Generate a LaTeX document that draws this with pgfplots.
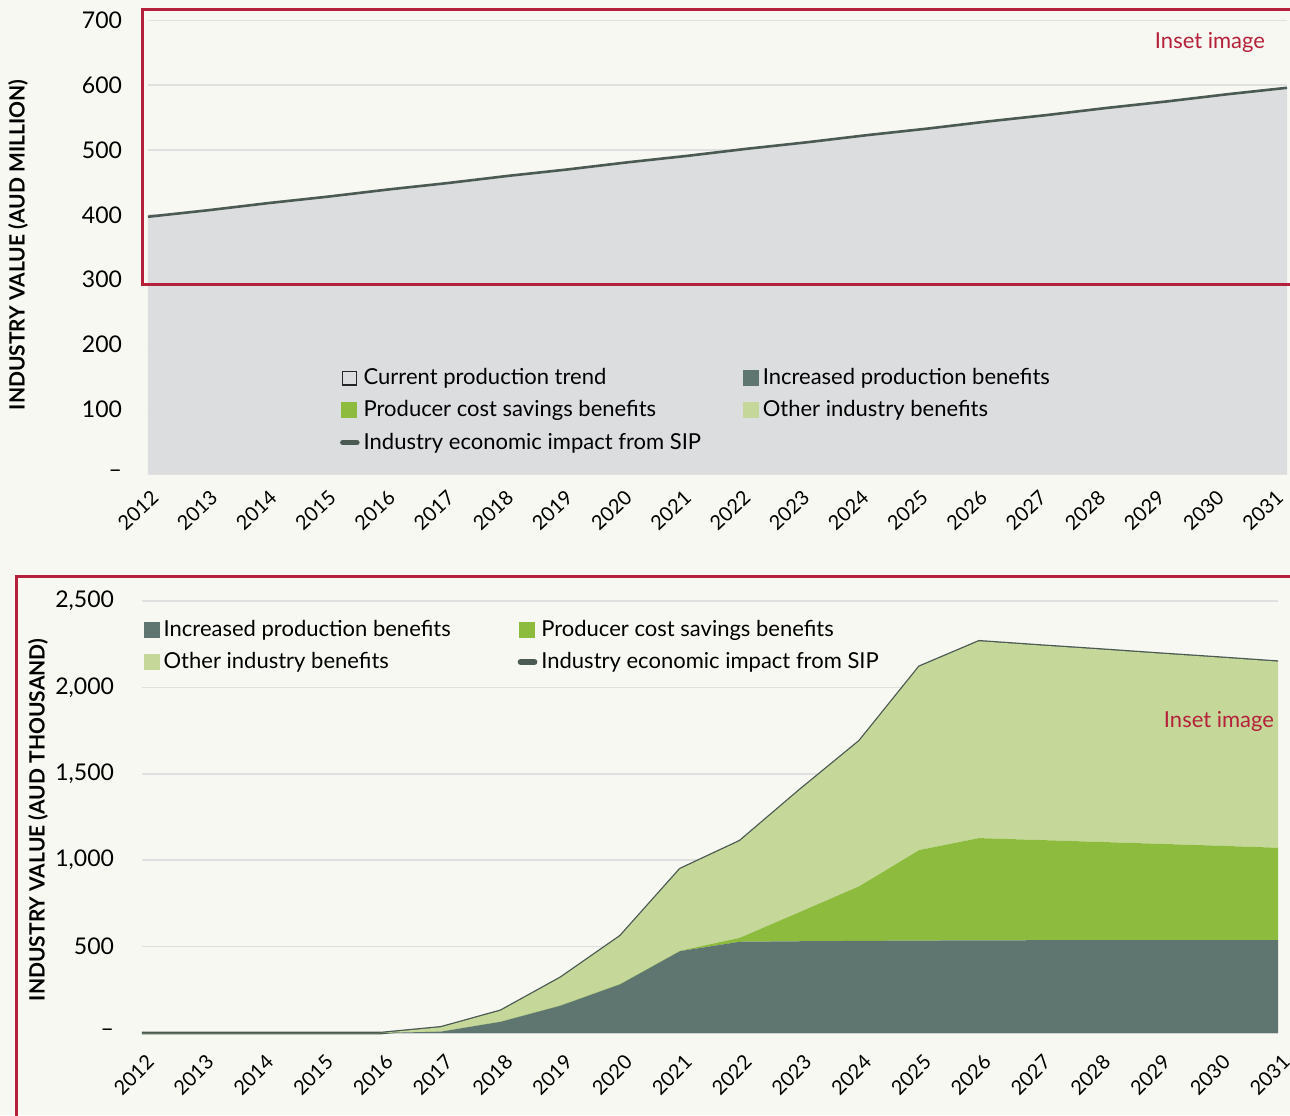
\documentclass[border=0pt]{standalone}
\usepackage{fontspec}
\setmainfont{Lato}
\usepackage{pgfplots}
\pgfplotsset{compat=1.18}
\usepackage{pgfplotstable}
\definecolor{bg}{HTML}{F7F8F1}
\definecolor{greyarea}{HTML}{DCDDDF}
\definecolor{linec}{HTML}{4B5A52}
\definecolor{darkc}{HTML}{5E7570}
\definecolor{midc}{HTML}{8DBB3D}
\definecolor{lightc}{HTML}{C5D89A}
\definecolor{redc}{HTML}{B5213A}
\definecolor{gridc}{HTML}{E0E0E0}

\pgfplotstableread{
year trend
2012 397
2013 407
2014 418
2015 428
2016 439
2017 449
2018 460
2019 470
2020 481
2021 491
2022 502
2023 512
2024 523
2025 533
2026 544
2027 554
2028 565
2029 575
2030 586
2031 596
}\trendtable

\pgfplotstableread{
year inc cost other
2012 0 0 0
2013 0 0 0
2014 0 0 0
2015 0 0 0
2016 0 0 0
2017 8 0 25
2018 65 1 63
2019 158 2 160
2020 282 2 277
2021 474 2 473
2022 528 23 560
2023 531 169 706
2024 533 317 840
2025 535 524 1061
2026 536 592 1139
2027 537 580 1126
2028 538 568 1114
2029 538 557 1101
2030 538 546 1089
2031 538 534 1077
}\benefits

\pgfplotsset{
  common/.style={
    scale only axis,
    anchor=south west,
    xmin=2012, xmax=2031,
    enlargelimits=false,
    axis line style={draw=none},
    major tick length=0pt,
    tick style={draw=none},
    ymajorgrids,
    grid style={gridc, line width=0.8pt},
    /pgf/number format/assume math mode=true,
    /pgf/number format/1000 sep={},
    tick label style={font=\fontsize{11.5}{13}\selectfont, text=black},
    yticklabel style={anchor=east},
    legend cell align=left,
    ylabel style={font=\bfseries\fontsize{10.5}{12}\selectfont, anchor=center, rotate=0},
    clip=false,
  },
  sqimg/.style={legend image code/.code={\fill[#1] (0pt,-3.75pt) rectangle (7.5pt,3.75pt);}},
}

\begin{document}
\begin{tikzpicture}[x=1pt,y=1pt]
\fill[bg] (0,0) rectangle (645,557.5);
\path[use as bounding box] (0,0) rectangle (645,557.5);

% ---------- top chart ----------
\begin{axis}[common,
  at={(74pt,320.5pt)}, width=569.5pt, height=226.8pt,
  ymin=0, ymax=700,
  ytick={0,100,...,700},
  yticklabels={--,100,200,300,400,500,600,700},
  yticklabel style={xshift=-9.5pt},
  xtick={2012,2012.9875,2013.975,2014.9625,2015.95,2016.9375,2017.925,2018.9125,2019.9,2020.8875,2021.875,2022.8625,2023.85,2024.8375,2025.825,2026.8125,2027.8,2028.7875,2029.775,2030.7625},
  xticklabels={2012,2013,2014,2015,2016,2017,2018,2019,2020,2021,2022,2023,2024,2025,2026,2027,2028,2029,2030,2031},
  xticklabel style={font=\fontsize{10}{12}\selectfont, xshift=1pt, yshift=-6pt, rotate=43, anchor=north east, inner sep=1pt},
  ylabel={INDUSTRY VALUE (AUD MILLION)},
  ylabel style={at={(rel axis cs:-0.114,0.505)}},
  legend columns=2,
  legend style={draw=none, fill=none, at={(rel axis cs:0.163,0.251)}, anchor=north west,
    font=\fontsize{11}{13}\selectfont, row sep=2.5pt,
    /tikz/every even column/.append style={column sep=19pt}},
]
\addplot[fill=greyarea, draw=none, forget plot] table[x=year, y=trend] {\trendtable} \closedcycle;
\addplot[linec, line width=1.3pt, forget plot] table[x=year, y=trend] {\trendtable};
\addlegendimage{legend image code/.code={\draw[black!85, line width=0.6pt] (0.3pt,-3.45pt) rectangle (7.2pt,3.45pt);}}
\addlegendentry{Current production trend}
\addlegendimage{sqimg=darkc}
\addlegendentry{Increased production benefits}
\addlegendimage{sqimg=midc}
\addlegendentry{Producer cost savings benefits}
\addlegendimage{sqimg=lightc}
\addlegendentry{Other industry benefits}
\addlegendimage{legend image code/.code={\draw[linec, line width=2.8pt, line cap=round] (0.5pt,0pt) -- (7.5pt,0pt);}}
\addlegendentry{Industry economic impact from SIP}
\end{axis}

% ---------- bottom chart ----------
\begin{axis}[common,
  at={(71pt,41pt)}, width=568pt, height=216pt,
  ymin=0, ymax=2500,
  ytick={0,500,...,2500},
  yticklabels={--,500,{1,000},{1,500},{2,000},{2,500}},
  yticklabel style={xshift=-10.5pt},
  xtick={2012,2013,...,2031},
  xticklabel style={font=\fontsize{10}{12}\selectfont, xshift=1.5pt, yshift=-8.5pt, rotate=45, anchor=north east, inner sep=1pt},
  ylabel={INDUSTRY VALUE (AUD THOUSAND)},
  ylabel style={at={(rel axis cs:-0.0915,0.493)}},
  stack plots=y,
  legend columns=2,
  legend style={draw=none, fill=none, at={(rel axis cs:-0.004,0.975)}, anchor=north west,
    font=\fontsize{11}{13}\selectfont, row sep=2.5pt,
    /tikz/every even column/.append style={column sep=31.5pt}},
]
\addplot[fill=darkc, draw=none, forget plot] table[x=year, y=inc] {\benefits} \closedcycle;
\addplot[fill=midc, draw=none, forget plot] table[x=year, y=cost] {\benefits} \closedcycle;
\addplot[fill=lightc, draw=none, forget plot] table[x=year, y=other] {\benefits} \closedcycle;
\addplot[linec, line width=1.3pt, forget plot] table[x=year, y expr=0] {\benefits};
\addlegendimage{sqimg=darkc}
\addlegendentry{Increased production benefits}
\addlegendimage{sqimg=midc}
\addlegendentry{Producer cost savings benefits}
\addlegendimage{sqimg=lightc}
\addlegendentry{Other industry benefits}
\addlegendimage{legend image code/.code={\draw[linec, line width=2.8pt, line cap=round] (0.5pt,0pt) -- (7.5pt,0pt);}}
\addlegendentry{Industry economic impact from SIP}
\end{axis}

% ---------- inset frames ----------
\draw[redc, line width=1.5pt] (71,415) rectangle (660,552.5);
\draw[redc, line width=1.5pt] (8,-20) rectangle (660,269);
\node[text=redc, font=\fontsize{11}{13}\selectfont] at (605,536.5) {Inset image};
\node[text=redc, font=\fontsize{11}{13}\selectfont] at (609.5,197) {Inset image};
\end{tikzpicture}
\end{document}
